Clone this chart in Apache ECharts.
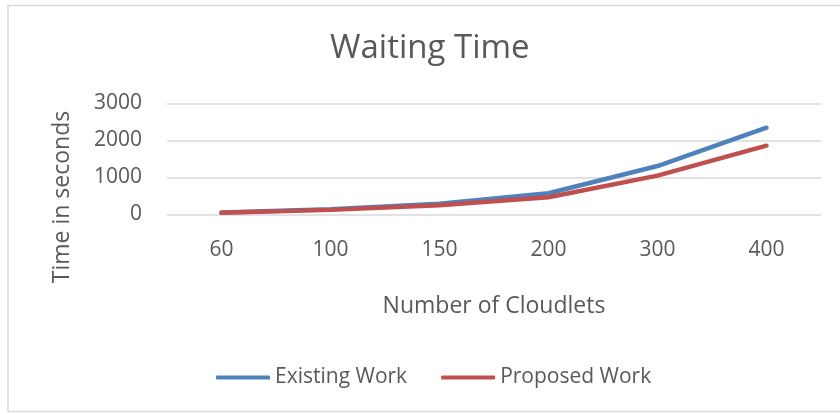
<!DOCTYPE html>
<html>
<head>
<meta charset="utf-8">
<script src="https://cdn.jsdelivr.net/npm/echarts@6/dist/echarts.min.js"></script>
<style>
html,body{margin:0;padding:0;background:#fff;}
#c{width:840px;height:414px;}
</style>
</head>
<body>
<div id="c"></div>
<script>
const categories = ['60', '100', '150', '200', '300', '400'];
const existingWork = [55, 145, 290, 575, 1310, 2345];
const proposedWork = [45, 125, 250, 465, 1050, 1860];
const yTicks = [0, 1000, 2000, 3000];

const FONT = '"Open Sans", "Liberation Sans", sans-serif';
const GREY = '#595959';
const chart = echarts.init(document.getElementById('c'), null, {renderer: 'canvas'});
chart.setOption({
  animation: false,
  backgroundColor: '#fff',
  title: {
    text: 'Waiting Time',
    left: 330,
    top: 32,
    itemGap: 0,
    padding: 0,
    textStyle: {fontFamily: FONT, fontSize: 33, fontWeight: 'normal', color: GREY}
  },
  legend: {
    bottom: 21,
    left: 211,
    itemWidth: 54,
    itemHeight: 4,
    itemGap: 34,
    icon: 'roundRect',
    textStyle: {fontFamily: FONT, fontSize: 21, color: GREY},
    data: ['Existing Work', 'Proposed Work']
  },
  grid: {left: 167, right: 19, top: 103.5, bottom: 199.5, containLabel: false},
  xAxis: {
    type: 'category',
    data: categories,
    boundaryGap: true,
    axisLine: {show: false},
    axisTick: {show: false},
    axisLabel: {fontFamily: FONT, fontSize: 21, color: GREY, margin: 25},
    name: 'Number of Cloudlets',
    nameLocation: 'middle',
    nameGap: 80,
    nameTextStyle: {fontFamily: FONT, fontSize: 23, color: GREY}
  },
  yAxis: {
    type: 'value',
    min: yTicks[0],
    max: yTicks[yTicks.length - 1],
    interval: 1000,
    axisLine: {show: false},
    axisTick: {show: false},
    axisLabel: {fontFamily: FONT, fontSize: 21, color: GREY, margin: 25, formatter: v => String(v)},
    splitLine: {lineStyle: {color: '#D9D9D9', width: 1.5}}
  },
  graphic: [
    {
      type: 'rect',
      shape: {x: 8, y: 5.5, width: 840, height: 406},
      style: {fill: 'none', stroke: '#D9D9D9', lineWidth: 1.5},
      silent: true
    },
    {
      type: 'text',
      x: 62,
      y: 197,
      rotation: Math.PI / 2,
      style: {
        text: 'Time in seconds',
        font: '23px ' + FONT,
        fill: GREY,
        textAlign: 'center',
        textVerticalAlign: 'middle'
      }
    }
  ],
  series: [
    {
      name: 'Existing Work',
      type: 'line',
      data: existingWork,
      symbol: 'none',
      lineStyle: {width: 4.5, color: '#4F81BD', cap: 'round'},
      itemStyle: {color: '#4F81BD'}
    },
    {
      name: 'Proposed Work',
      type: 'line',
      data: proposedWork,
      symbol: 'none',
      lineStyle: {width: 4.5, color: '#C0504D', cap: 'round'},
      itemStyle: {color: '#C0504D'}
    }
  ]
});
</script>
</body>
</html>
